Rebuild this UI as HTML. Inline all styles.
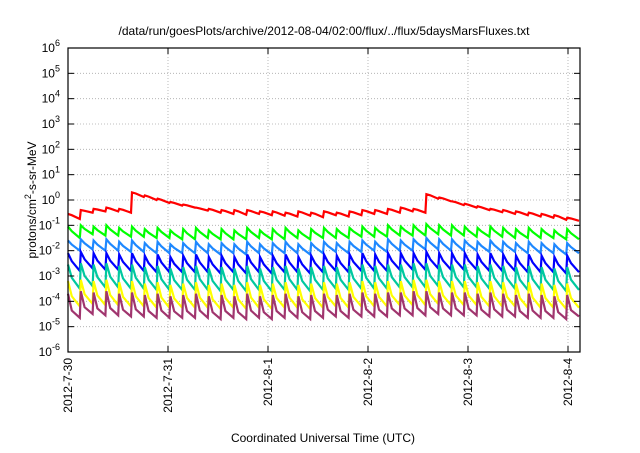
<!DOCTYPE html>
<html><head><meta charset="utf-8"><style>
body{margin:0;background:#fff;width:640px;height:448px;overflow:hidden}
svg{font-family:"Liberation Sans",Arial,sans-serif}
</style></head><body>
<svg id="chart" width="640" height="448">
<text x="324" y="35" font-size="12" text-anchor="middle">/data/run/goesPlots/archive/2012-08-04/02:00/flux/../flux/5daysMarsFluxes.txt</text>
<text transform="translate(36,200) rotate(-90)" font-size="12" text-anchor="middle">protons/cm<tspan dy="-5" font-size="9">2</tspan><tspan dy="5">-s-sr-MeV</tspan></text>
<text x="323" y="442" font-size="12" text-anchor="middle">Coordinated Universal Time (UTC)</text>
<g id="grid"></g><g id="series"></g><g id="axes"></g>
</svg>
<script>
const yExponents=[-6,-5,-4,-3,-2,-1,0,1,2,3,4,5,6];
const xTickLabels=["2012-7-30","2012-7-31","2012-8-1","2012-8-2","2012-8-3","2012-8-4"];
const xTickDays=[0,1,2,3,4,5];
const toothDays=[0,0.128,0.256,0.384,0.512,0.64,0.768,0.896,1.024,1.152,1.28,1.408,1.536,1.664,1.792,1.92,2.048,2.176,2.304,2.432,2.56,2.688,2.816,2.944,3.072,3.2,3.328,3.456,3.584,3.712,3.84,3.968,4.096,4.224,4.352,4.48,4.608,4.736,4.864,4.992];
const redPeaks=[-0.55,-0.4,-0.35,-0.3,-0.35,0.3,0.18,0.05,-0.08,-0.18,-0.3,-0.35,-0.4,-0.4,-0.4,-0.45,-0.45,-0.5,-0.45,-0.5,-0.45,-0.5,-0.45,-0.4,-0.4,-0.35,-0.3,-0.35,0.23,0.1,-0.05,-0.15,-0.25,-0.35,-0.4,-0.45,-0.5,-0.55,-0.6,-0.7];
const redTroughs=[-0.75,-0.5,-0.45,-0.45,-0.5,0.12,0.0,-0.12,-0.22,-0.3,-0.42,-0.5,-0.55,-0.58,-0.55,-0.6,-0.62,-0.65,-0.62,-0.68,-0.6,-0.65,-0.6,-0.55,-0.55,-0.5,-0.45,-0.5,0.05,-0.05,-0.2,-0.3,-0.4,-0.48,-0.55,-0.6,-0.65,-0.7,-0.78,-0.82];
const greenPeaks=[-1.05,-1.0,-1.05,-1.0,-1.1,-1.05,-1.15,-1.1,-1.2,-1.15,-1.1,-1.2,-1.15,-1.2,-1.1,-1.2,-1.15,-1.1,-1.2,-1.15,-1.1,-1.15,-1.1,-1.05,-1.1,-1.0,-1.05,-1.0,-0.95,-1.0,-1.0,-1.05,-1.1,-1.05,-1.1,-1.15,-1.1,-1.15,-1.2,-1.15];
const greenTroughs=[-1.5,-1.35,-1.4,-1.4,-1.45,-1.45,-1.5,-1.5,-1.55,-1.55,-1.5,-1.55,-1.55,-1.55,-1.5,-1.55,-1.55,-1.5,-1.55,-1.5,-1.5,-1.5,-1.45,-1.45,-1.45,-1.4,-1.4,-1.4,-1.35,-1.4,-1.4,-1.45,-1.45,-1.45,-1.5,-1.5,-1.5,-1.5,-1.55,-1.55];
const lightBluePeaks=[-1.6,-1.55,-1.6,-1.55,-1.65,-1.6,-1.7,-1.65,-1.75,-1.7,-1.65,-1.75,-1.7,-1.75,-1.65,-1.75,-1.7,-1.65,-1.75,-1.7,-1.65,-1.7,-1.65,-1.6,-1.65,-1.55,-1.6,-1.55,-1.5,-1.55,-1.55,-1.6,-1.65,-1.6,-1.65,-1.7,-1.65,-1.7,-1.75,-1.7];
const lightBlueTroughs=[-2.0,-1.95,-2.0,-2.0,-2.05,-2.05,-2.1,-2.1,-2.1,-2.1,-2.1,-2.15,-2.1,-2.15,-2.1,-2.15,-2.1,-2.1,-2.15,-2.1,-2.05,-2.1,-2.05,-2.0,-2.05,-2.0,-2.0,-1.95,-1.95,-2.0,-2.0,-2.0,-2.05,-2.05,-2.05,-2.1,-2.1,-2.1,-2.15,-2.1];
const bluePeaks=[-2.1,-2.05,-2.1,-2.1,-2.15,-2.1,-2.2,-2.15,-2.25,-2.2,-2.15,-2.25,-2.2,-2.25,-2.15,-2.25,-2.2,-2.15,-2.25,-2.2,-2.15,-2.2,-2.15,-2.1,-2.15,-2.1,-2.1,-2.1,-2.05,-2.1,-2.1,-2.1,-2.15,-2.1,-2.15,-2.2,-2.15,-2.2,-2.25,-2.2];
const blueTroughs=[-2.8,-2.7,-2.75,-2.75,-2.8,-2.8,-2.85,-2.85,-2.85,-2.85,-2.85,-2.9,-2.85,-2.9,-2.85,-2.9,-2.85,-2.85,-2.9,-2.85,-2.8,-2.85,-2.8,-2.8,-2.8,-2.75,-2.75,-2.75,-2.7,-2.75,-2.75,-2.75,-2.8,-2.8,-2.8,-2.85,-2.85,-2.85,-2.9,-2.85];
const tealPeaks=[-2.55,-2.5,-2.55,-2.5,-2.6,-2.55,-2.65,-2.6,-2.7,-2.65,-2.6,-2.7,-2.65,-2.7,-2.6,-2.7,-2.65,-2.6,-2.7,-2.65,-2.6,-2.65,-2.6,-2.55,-2.6,-2.55,-2.55,-2.5,-2.5,-2.55,-2.55,-2.55,-2.6,-2.55,-2.6,-2.65,-2.6,-2.65,-2.7,-2.65];
const tealTroughs=[-3.5,-3.4,-3.45,-3.45,-3.5,-3.5,-3.55,-3.55,-3.55,-3.55,-3.55,-3.6,-3.55,-3.6,-3.55,-3.6,-3.55,-3.55,-3.6,-3.55,-3.5,-3.55,-3.5,-3.5,-3.5,-3.45,-3.45,-3.45,-3.4,-3.45,-3.45,-3.45,-3.5,-3.5,-3.5,-3.55,-3.55,-3.55,-3.6,-3.55];
const yellowPeaks=[-3.2,-3.15,-3.2,-3.15,-3.25,-3.2,-3.3,-3.25,-3.35,-3.3,-3.25,-3.35,-3.3,-3.35,-3.25,-3.35,-3.3,-3.25,-3.35,-3.3,-3.25,-3.3,-3.25,-3.2,-3.25,-3.2,-3.2,-3.15,-3.15,-3.2,-3.2,-3.2,-3.25,-3.2,-3.25,-3.3,-3.25,-3.3,-3.35,-3.3];
const yellowTroughs=[-4.2,-4.1,-4.15,-4.15,-4.2,-4.2,-4.25,-4.25,-4.25,-4.25,-4.25,-4.3,-4.25,-4.3,-4.25,-4.3,-4.25,-4.25,-4.3,-4.25,-4.2,-4.25,-4.2,-4.2,-4.2,-4.15,-4.15,-4.15,-4.1,-4.15,-4.15,-4.15,-4.2,-4.2,-4.2,-4.25,-4.25,-4.25,-4.3,-4.25];
const purplePeaks=[-3.7,-3.6,-3.65,-3.6,-3.7,-3.65,-3.75,-3.7,-3.8,-3.75,-3.7,-3.8,-3.75,-3.8,-3.7,-3.8,-3.75,-3.7,-3.8,-3.75,-3.7,-3.75,-3.7,-3.65,-3.7,-3.65,-3.65,-3.6,-3.6,-3.65,-3.65,-3.65,-3.7,-3.65,-3.7,-3.75,-3.7,-3.75,-3.8,-3.75];
const purpleTroughs=[-4.65,-4.5,-4.55,-4.55,-4.6,-4.6,-4.65,-4.65,-4.65,-4.65,-4.65,-4.7,-4.65,-4.7,-4.65,-4.7,-4.65,-4.65,-4.7,-4.65,-4.6,-4.65,-4.6,-4.6,-4.6,-4.55,-4.55,-4.55,-4.5,-4.55,-4.55,-4.55,-4.6,-4.6,-4.6,-4.65,-4.65,-4.65,-4.7,-4.6];

const L=68,R=580,T=48,B=352,XMAX=5.12;
const xS=d=>L+d/XMAX*(R-L);
const yS=e=>B-(e+6)/12*(B-T);
const NS="http://www.w3.org/2000/svg";
function mk(tag,attrs,parent){const e=document.createElementNS(NS,tag);for(const k in attrs)e.setAttribute(k,attrs[k]);parent.appendChild(e);return e;}
const grid=document.getElementById('grid'),axes=document.getElementById('axes'),ser=document.getElementById('series');
yExponents.forEach(e=>{
  const y=yS(e);
  if(e>-6&&e<6){const g=mk('line',{x1:L,x2:R,y1:y,y2:y,stroke:'#aaa','stroke-width':0.8,'stroke-dasharray':'1,2'},grid);
  
  }
  mk('line',{x1:L,x2:L+6,y1:y,y2:y,stroke:'#000'},axes);
  mk('line',{x1:R,x2:R-6,y1:y,y2:y,stroke:'#000'},axes);
  const t=mk('text',{x:L-8,y:y+4,'font-size':12,'text-anchor':'end'},axes);
  
  
  t.innerHTML='10<tspan dy="-6" font-size="9">'+e+'</tspan>';
});
xTickDays.forEach((d,i)=>{
  const x=xS(d);
  if(d>0){const g=mk('line',{x1:x,x2:x,y1:T,y2:B,stroke:'#aaa','stroke-width':0.8,'stroke-dasharray':'1,2'},grid);
  
  }
  mk('line',{x1:x,x2:x,y1:B,y2:B-6,stroke:'#000'},axes);
  mk('line',{x1:x,x2:x,y1:T,y2:T+6,stroke:'#000'},axes);
  const t=mk('text',{transform:`translate(${x+4},${B+6}) rotate(-90)`,'font-size':12,'text-anchor':'end'},axes);
  
  
  t.textContent=xTickLabels[i];
});
const fr=mk('rect',{x:L,y:T,width:R-L,height:B-T,fill:'none',stroke:'#000','stroke-width':1.2},axes);


const seriesList=[
 ['red-series',redPeaks,redTroughs,'#ff0000',0.75],
 ['green-series',greenPeaks,greenTroughs,'#00ff00',0.6],
 ['light-blue-series',lightBluePeaks,lightBlueTroughs,'#1e88ff',0.6],
 ['blue-series',bluePeaks,blueTroughs,'#0000ff',0.55],
 ['teal-series',tealPeaks,tealTroughs,'#00c8a0',0.45],
 ['yellow-series',yellowPeaks,yellowTroughs,'#ffff00',0.4],
 ['purple-series',purplePeaks,purpleTroughs,'#a0356e',0.3]];
seriesList.forEach(([name,pk,tr,col,k])=>{
  let pts=[];
  for(let i=0;i<toothDays.length;i++){
    const t0=toothDays[i], t1=i+1<toothDays.length?toothDays[i+1]:XMAX;
    const dt=t1-t0;
    pts.push([xS(t0),yS(pk[i])]);
    pts.push([xS(t0+0.3*dt),yS(tr[i]+(pk[i]-tr[i])*k)]);
    pts.push([xS(t1-0.01),yS(tr[i])]);
  }
  const p=mk('polyline',{points:pts.map(p=>p[0].toFixed(1)+','+p[1].toFixed(1)).join(' '),fill:'none',stroke:col,'stroke-width':2.2,'stroke-linejoin':'miter'},ser);
  
  
});
</script>
</body></html>
